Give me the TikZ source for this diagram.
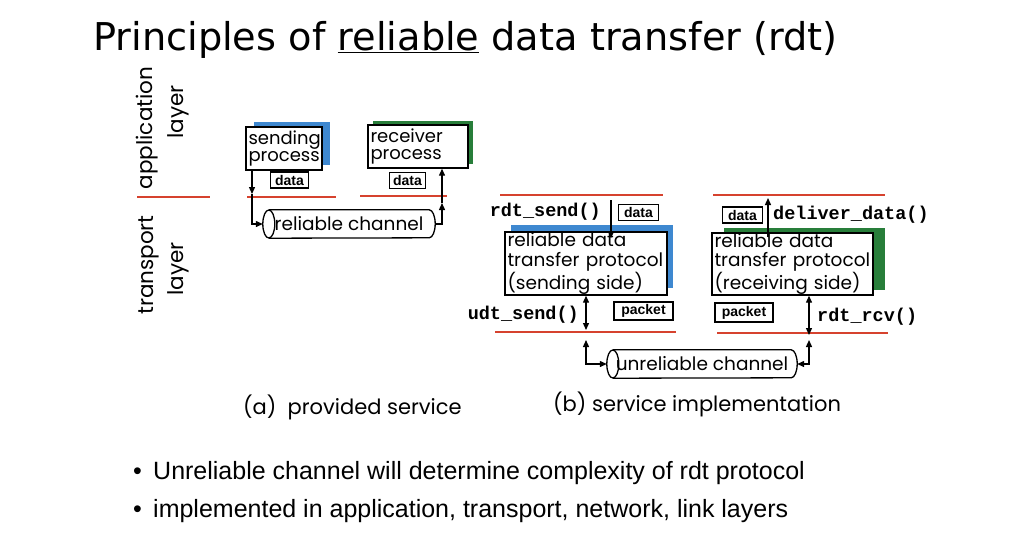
\documentclass[tikz,border=0pt]{standalone}
\usepackage{fontspec}
\setmainfont{Poppins}
\newfontfamily\titlefont{DejaVu Sans}
\newfontfamily\bulletfont{Liberation Sans}
\newfontfamily\codefont{Liberation Mono}
\newfontfamily\tagfont{Liberation Sans}
\usetikzlibrary{shadows,arrows.meta}

\definecolor{layerred}{RGB}{214,66,46}
\definecolor{sendblue}{RGB}{62,136,208}
\definecolor{recvgreen}{RGB}{40,126,58}

\tikzset{
  layerline/.style={draw=layerred, line width=2.6pt},
  procbox/.style={draw, line width=1.4pt, fill=white, inner xsep=2.5pt, inner ysep=0pt,
    align=left, font=\fontsize{18}{17}\selectfont},
  protobox/.style={draw, line width=1.4pt, fill=white, inner xsep=2.5pt, inner ysep=0pt,
    align=left, font=\fontsize{18.5}{19.5}\selectfont},
  tagbox/.style={draw, line width=1.3pt, fill=white, inner sep=0pt,
    font=\tagfont\bfseries\fontsize{14}{14}\selectfont},
  chanbox/.style={inner sep=0pt, minimum height=28pt, font=\fontsize{18.5}{18.5}\selectfont},
  cylinder line/.style={line width=1.3pt},
  conn/.style={line width=1.3pt},
  tip/.tip={Triangle[length=7pt,width=6pt]},
  codetext/.style={inner sep=0pt, font=\codefont\bfseries\fontsize{18.5}{18.5}\selectfont},
  layertext/.style={inner sep=0pt, rotate=90, font=\fontsize{21.5}{21.5}\selectfont},
  caption/.style={inner sep=0pt, anchor=west, font=\fontsize{21}{21}\selectfont},
  bullettext/.style={inner sep=0pt, anchor=base west, font=\bulletfont\fontsize{25}{25}\selectfont},
}

\begin{document}
\begin{tikzpicture}[x=1pt,y=-1pt]
\useasboundingbox (0,0) rectangle (1009,547);
\fill[white] (0,0) rectangle (1009,547);

% title
\node[inner sep=0pt, anchor=base west, font=\titlefont\fontsize{38.3}{44}\selectfont]
  (title) at (93,50) {Principles of \underline{reliable} data transfer (rdt)};

% layer labels and separator
\node[layertext] (applab) at (147,128) {application};
\node[layertext] (applay) at (178,112) {layer};
\node[layertext] (trlab) at (149,265) {transport};
\node[layertext] (trlay) at (178,269) {layer};
\coordinate (sepl) at (137,197);
\coordinate (sepr) at (210,197);
\draw[layerline] (sepl) -- (sepr);

% ---------------- (a) provided service ----------------
\node[procbox, text width=71pt, minimum height=43pt,
  general shadow={fill=sendblue, shadow xshift=8pt, shadow yshift=5pt}]
  (sp) at (284,148.5) {sending\\process};
\node[procbox, text width=95pt, minimum height=43pt,
  general shadow={fill=recvgreen, shadow xshift=5pt, shadow yshift=4pt}]
  (rp) at (418,146.5) {receiver\\process};
\node[tagbox, minimum width=38pt, minimum height=16pt] (sdata) at (289.5,180) {data};
\node[tagbox, minimum width=36pt, minimum height=16pt] (rdata) at (407.5,180.5) {data};

\coordinate (al1) at (247,197);
\coordinate (al2) at (336,197);
\coordinate (al3) at (360,196);
\coordinate (al4) at (447,196);
\draw[layerline] (al1) -- (al2);
\draw[layerline] (al3) -- (al4);

% reliable channel
\node[chanbox, minimum width=172pt] (rchan) at (349,224) {reliable channel};
\draw[cylinder line] ([xshift=6pt]rchan.north west) -- ([xshift=-6pt]rchan.north east)
  arc[start angle=90, end angle=-90, x radius=6pt, y radius=14pt]
  -- ([xshift=6pt]rchan.south west);
\draw[cylinder line] ([xshift=6pt]rchan.west) ellipse [x radius=6pt, y radius=14pt];

% sending side path
\coordinate (sdrop) at (252,224);
\coordinate (smid) at (252,194);
\draw[conn, -tip] (sp.south -| sdrop) -- (smid);
\draw[conn, -tip] (smid) -- (sdrop) -- (rchan.west);
% receiving side path
\coordinate (rrise) at (442,224);
\coordinate (rmid) at (442,203);
\draw[conn, -tip] (rchan.east) -- (rrise) -- (rmid);
\draw[conn, -tip] (rmid) -- (rp.south -| rrise);

\node[caption] (capa) at (243,407) {(a)\ \ provided service};

% ---------------- (b) service implementation ----------------
\coordinate (bl1) at (500,195);
\coordinate (bl2) at (663,195);
\coordinate (bl3) at (713,195);
\coordinate (bl4) at (885,195);
\coordinate (bl5) at (495,332);
\coordinate (bl6) at (676,332);
\coordinate (bl7) at (717,333);
\coordinate (bl8) at (888,333);
\draw[layerline] (bl1) -- (bl2);
\draw[layerline] (bl3) -- (bl4);
\draw[layerline] (bl5) -- (bl6);
\draw[layerline] (bl7) -- (bl8);

\node[protobox, text width=157pt, minimum height=63pt,
  general shadow={fill=sendblue, shadow xshift=6pt, shadow yshift=7pt}]
  (sbox) at (586,263.5) {reliable data\\transfer protocol\\(sending side)};
\node[protobox, text width=156pt, minimum height=62pt,
  general shadow={fill=recvgreen, shadow xshift=12pt, shadow yshift=5pt}]
  (rbox) at (792.5,264) {reliable data\\transfer protocol\\(receiving side)};

% sender interface
\node[codetext, anchor=east] (rsend) at (601,212) {rdt\_send()};
\node[tagbox, minimum width=40pt, minimum height=16pt] (bsdata) at (638.5,212.5) {data};
\coordinate (rsx) at (611,200);
\draw[conn, -tip] (rsx) -- ([yshift=-7pt]sbox.north -| rsx);
\node[codetext, anchor=east] (usend) at (579,315) {udt\_send()};
\node[tagbox, minimum width=59pt, minimum height=18pt] (spkt) at (643.5,311) {packet};
\coordinate (usx) at (586,330);
\draw[conn, tip-tip] (sbox.south -| usx) -- (usx);

% receiver interface
\node[tagbox, minimum width=40pt, minimum height=16pt] (brdata) at (742.5,215) {data};
\coordinate (ddx) at (768,198);
\draw[conn, -tip] ([yshift=-5pt]rbox.north -| ddx) -- (ddx);
\node[codetext, anchor=west] (deliver) at (773,215) {deliver\_data()};
\node[tagbox, minimum width=58pt, minimum height=19pt] (rpkt) at (744,312.5) {packet};
\coordinate (rcx) at (809,335);
\draw[conn, tip-tip] (rbox.south -| rcx) -- (rcx);
\node[codetext, anchor=west] (rrcv) at (817,317) {rdt\_rcv()};

% unreliable channel
\node[chanbox, minimum width=190pt] (uchan) at (702,364) {unreliable channel};
\draw[cylinder line] ([xshift=6pt]uchan.north west) -- ([xshift=-6pt]uchan.north east)
  arc[start angle=90, end angle=-90, x radius=6pt, y radius=14pt]
  -- ([xshift=6pt]uchan.south west);
\draw[cylinder line] ([xshift=6pt]uchan.west) ellipse [x radius=6pt, y radius=14pt];

\coordinate (ulx) at (586,340);
\coordinate (urx) at (809,340);
\draw[conn, tip-tip] (ulx) |- (uchan.west);
\draw[conn, tip-tip] (uchan.east) -| (urx);

\node[caption] (capb) at (553,404) {(b) service implementation};

% bullet list
\node[bullettext] (b1dot) at (133,479) {\textbullet};
\node[bullettext] (b1) at (153,479) {Unreliable channel will determine complexity of rdt protocol};
\node[bullettext] (b2dot) at (133,517) {\textbullet};
\node[bullettext] (b2) at (153,517) {implemented in application, transport, network, link layers};
\end{tikzpicture}
\end{document}
